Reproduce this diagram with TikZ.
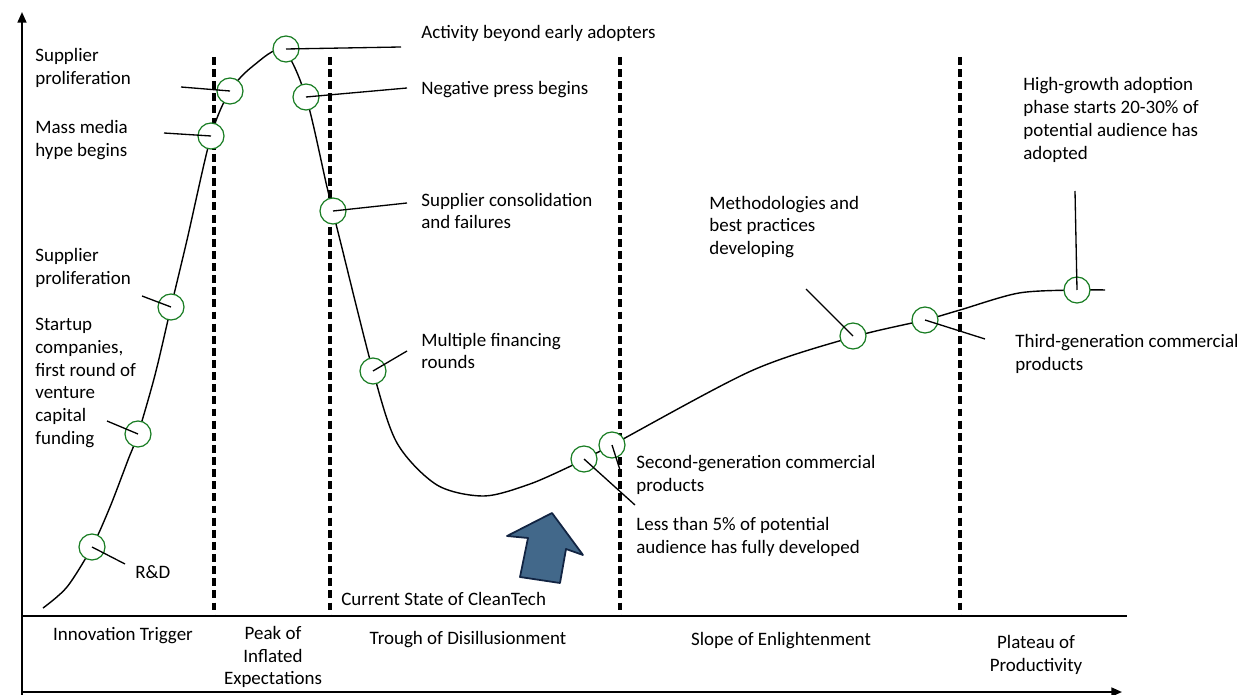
\documentclass[tikz,border=0pt]{standalone}
\usepackage{fontspec}
\setmainfont{Carlito}
\usetikzlibrary{positioning}
\usetikzlibrary{arrows.meta}

\definecolor{hypegreen}{RGB}{25,125,35}
\definecolor{arrowblue}{RGB}{66,104,138}
\definecolor{arrowedge}{RGB}{18,36,66}

\tikzset{
	hc/.style={circle,draw=hypegreen,fill=white,line width=0.7pt,minimum size=0.52cm,inner sep=0pt},
	lbl/.style={anchor=west,align=left,inner sep=0pt,font=\fontsize{10.8}{13}\selectfont},
	phase/.style={align=center,inner sep=0pt,font=\fontsize{10.8}{13}\selectfont},
	divider/.style={line width=1.9pt,dash pattern=on 4.5pt off 2.4pt},
	leader/.style={line width=0.75pt}
}

\begin{document}
\begin{tikzpicture}[x=0.02cm,y=-0.02cm]
		\useasboundingbox (0,0) rectangle (1240,695);
		% axes
		\draw[line width=1.1pt,-{Triangle[length=6pt,width=5pt]}] (22,697) -- (22,12);
		\draw[line width=1.1pt] (22,616) -- (1127,616);
		\draw[line width=1.1pt,-{Triangle[length=6pt,width=5pt]}] (22,692) -- (1122,692);
		% hype curve
		\draw[line width=0.8pt] plot[smooth,tension=0.5] coordinates {(43,608) (67,587) (92,547) (110,507) (128,460) (138,434) (155,375) (171,307) (187,240) (211,136) (230,91) (253,66) (283,50) (306,97) (327,187) (340,240) (373,371) (397,443) (437,485) (484,496) (530,484) (573,465) (584,459) (612,445) (751,371) (853,337) (925,320) (960,310) (1019,293) (1077,290) (1105,290)};
		% phase dividers
		\foreach \px in {214,330,620,960}
			\draw[divider] (\px,57) -- (\px,616);
		% milestones with leader lines
		\foreach \n/\p/\q in {rd/{92,547}/{125,564}, startup/{138,434}/{107,421}, supa/{171,307}/{142,296}, hype/{211,136}/{164,133}, supb/{230,91}/{181,87}, peak/{286,49}/{401,47}, press/{306,97}/{407,88}, consol/{333,211}/{407,203}, fin/{373,371}/{407,351}, less/{584,459}/{635,505}, second/{612,445}/{620,470}, method/{853,336}/{806,289}, third/{925,320}/{985,339}, growth/{1077,290}/{1075,191}} {
			\node[hc] (\n) at (\p) {};
			\coordinate (\n-end) at (\q);
			\draw[leader] (\n.center) -- (\n-end);
		}
		% current state arrow
		\draw[fill=arrowblue,draw=arrowedge,line width=1pt,line join=round] (552,513) -- (583,555) -- (566,549) -- (560,583) -- (520,577) -- (528,538) -- (507,536) -- cycle;
		% milestone texts
		\node[lbl] (tsupb) at (35,68) {Supplier\\proliferation};
		\node[lbl] (thype) at (35,140) {Mass media\\hype begins};
		\node[lbl] (tsupa) at (35,268) {Supplier\\proliferation};
		\node[lbl] (tstartup) at (35,383) {Startup\\companies,\\first round of\\venture\\capital\\funding};
		\node[lbl] (trd) at (135,572) {R\&D};
		\node[lbl] (tpeak) at (421,33) {Activity beyond early adopters};
		\node[lbl] (tpress) at (421,90) {Negative press begins};
		\node[lbl] (tconsol) at (421,211) {Supplier consolidation\\and failures};
		\node[lbl] (tfin) at (421,351) {Multiple financing\\rounds};
		\node[lbl] (tstate) at (341,599) {Current State of CleanTech};
		\node[lbl] (tsecond) at (636,475) {Second-generation commercial\\products};
		\node[lbl] (tless) at (636,537) {Less than 5\% of potential\\audience has fully developed};
		\node[lbl] (tmethod) at (709,227) {Methodologies and\\best practices\\developing};
		\node[lbl] (tthird) at (1015,354) {Third-generation commercial\\products};
		\node[lbl] (tgrowth) at (1023,120) {High-growth adoption\\phase starts 20-30\% of\\potential audience has\\adopted};
		% phases
		\node[phase] (innov) at (123,636) {Innovation Trigger};
		\node[phase] (inflated) at (273,657) {Peak of\\Inflated\\Expectations};
		\node[phase] (trough) at (468,640) {Trough of Disillusionment};
		\node[phase] (slope) at (781,641) {Slope of Enlightenment};
		\node[phase] (plateau) at (1036,655) {Plateau of\\Productivity};
	\end{tikzpicture}
\end{document}
